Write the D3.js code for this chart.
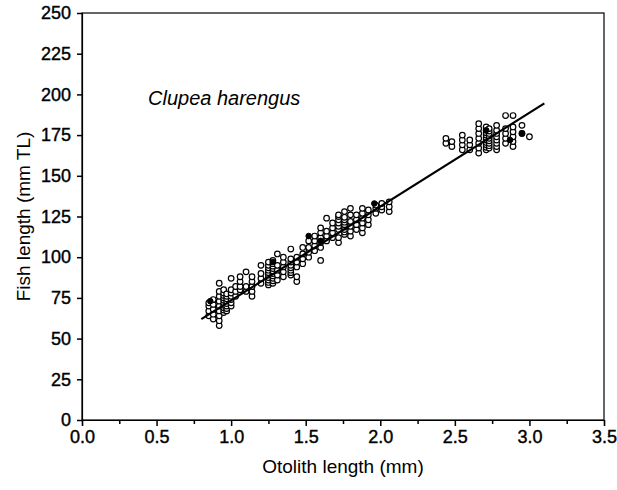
<!DOCTYPE html>
<html>
<head>
<meta charset="utf-8">
<script src="https://cdn.jsdelivr.net/npm/d3@7"></script>
<style>
  body { margin: 0; background: #fff; }
  text { font-family: "Liberation Sans", Arial, sans-serif; fill: #000; }
</style>
</head>
<body>
<svg id="chart"></svg>
<script>
// otolith length (mm) of each column of measurements, and fish lengths (mm TL) at it
var columnOL = [0.85, 0.88, 0.92, 0.95, 0.97, 1.0, 1.03, 1.06, 1.1, 1.14, 1.2, 1.25, 1.28, 1.31, 1.35, 1.4, 1.44, 1.48, 1.52, 1.56, 1.6, 1.64, 1.68, 1.72, 1.76, 1.8, 1.84, 1.88, 1.92, 1.97, 2.01, 2.06,
                2.44, 2.48, 2.55, 2.6, 2.66, 2.71, 2.73, 2.78, 2.84, 2.89, 2.95, 3.0];
var columnFL = [
  [64, 67, 70, 72],
  [62, 65, 68, 71, 74],
  [58, 61, 64, 67, 70, 73, 76, 79, 84],
  [66, 67.5, 69, 70.5, 72, 73.5, 75, 76.5, 78, 80],
  [67, 68.5, 70, 71.5, 73, 74.5, 76, 77.5],
  [70, 72, 74, 76, 78, 80, 87],
  [76, 79, 82],
  [80, 82, 85, 88],
  [79, 82, 91],
  [76, 79, 82, 85, 88],
  [84, 87, 90, 95],
  [83, 84.5, 86, 87.5, 89, 90.5, 92, 93.5, 95, 97],
  [84, 85.5, 87, 88.5, 90, 91.5, 93, 94.5, 96, 98],
  [86, 89, 92, 95, 102],
  [88, 91, 94, 97, 100],
  [89, 90.5, 92, 93.5, 95, 97, 99, 105],
  [85, 88, 94, 97, 100],
  [96, 99, 102, 106],
  [100, 103, 106, 110],
  [104, 107, 110, 113],
  [98, 106, 109, 112, 115, 118],
  [110, 113, 116, 124],
  [112, 115, 118, 121],
  [109, 112, 117, 119, 121, 123, 125, 126],
  [114, 115.5, 117, 118.5, 120, 121.5, 123, 124.5, 128],
  [113, 116, 119, 122, 126, 130],
  [117, 120, 123, 126],
  [115, 118, 121, 124, 127, 130],
  [120, 123, 126, 129],
  [127, 130, 132],
  [129, 131, 133],
  [128, 131, 134],
  [170, 173],
  [168, 171],
  [166, 169, 172, 175],
  [166, 169, 172],
  [164, 167, 170, 173, 176, 179, 182],
  [166, 167.5, 169, 170.5, 172, 173.5, 175, 176.5, 178, 180],
  [167, 168.5, 170, 171.5, 173, 174.5, 176, 177.5, 179],
  [166, 168, 170, 172, 174, 176, 178, 181],
  [170, 173, 176, 179, 187],
  [168, 171, 174, 177, 180, 187],
  [176, 181],
  [174]
];
// records that fall on the same spot (drawn solid)
var stackedOL = [0.86, 1.28, 1.52, 1.6, 1.96, 2.71, 2.95, 2.87];
var stackedFL = [73, 97, 113, 110, 133, 178, 176, 172];

var lineOL = [0.8, 3.1];
var interceptFL = 15.9, slopeFL = 57.6;

var xTicks = [0, 0.5, 1, 1.5, 2, 2.5, 3, 3.5];
var xMinor = [0.25, 0.75, 1.25, 1.75, 2.25, 2.75, 3.25];
var yTicks = [0, 25, 50, 75, 100, 125, 150, 175, 200, 225, 250];

var width = 617, height = 490;
var margin = {top: 13, right: 13, bottom: 70, left: 82};
var svg = d3.select("#chart").attr("width", width).attr("height", height);

var x = d3.scaleLinear().domain([0, 3.5]).range([margin.left, width - margin.right]);
var y = d3.scaleLinear().domain([0, 250]).range([height - margin.bottom, margin.top]);

// frame
svg.append("rect")
  .attr("x", x(0)).attr("y", y(250))
  .attr("width", x(3.5) - x(0)).attr("height", y(0) - y(250))
  .style("fill", "none").style("stroke", "#000").style("stroke-width", 1.2);

svg.append("g")
  .attr("transform", "translate(0," + y(0) + ")")
  .call(d3.axisBottom(x).tickValues(xTicks).tickFormat(d3.format(".1f")).tickSize(6).tickPadding(4));
svg.append("g")
  .attr("transform", "translate(0," + y(0) + ")")
  .call(d3.axisBottom(x).tickValues(xMinor).tickFormat("").tickSize(4))
  .select(".domain").remove();
svg.append("g")
  .attr("transform", "translate(" + x(0) + ",0)")
  .call(d3.axisLeft(y).tickValues(yTicks).tickSize(5).tickPadding(6));

svg.selectAll(".domain").style("stroke", "#000").style("stroke-width", 1.2);
svg.selectAll(".tick line").style("stroke", "#000").style("stroke-width", 1.5);
svg.selectAll(".tick text")
  .style("font-family", "'Liberation Sans', Arial, sans-serif")
  .style("font-size", "18px").style("fill", "#000")
  .style("stroke", "#000").style("stroke-width", 0.4);

// scatter
var pts = [];
columnOL.forEach(function(ol, i) {
  columnFL[i].forEach(function(fl) { pts.push({ol: ol, fl: fl}); });
});
svg.append("g").selectAll("circle")
  .data(pts).enter().append("circle")
  .attr("cx", function(d) { return x(d.ol); })
  .attr("cy", function(d) { return y(d.fl); })
  .attr("r", 2.8)
  .style("fill", "#fff").style("stroke", "#000").style("stroke-width", 1.2);

svg.append("g").selectAll("circle")
  .data(stackedOL).enter().append("circle")
  .attr("cx", function(d) { return x(d); })
  .attr("cy", function(d, i) { return y(stackedFL[i]); })
  .attr("r", 2.8)
  .style("fill", "#000").style("stroke", "#000");

// regression line
svg.append("line")
  .attr("x1", x(lineOL[0])).attr("y1", y(interceptFL + slopeFL * lineOL[0]))
  .attr("x2", x(lineOL[1])).attr("y2", y(interceptFL + slopeFL * lineOL[1]))
  .style("stroke", "#000").style("stroke-width", 2.2);

svg.append("text")
  .attr("x", 148).attr("y", 105)
  .style("font-size", "20px").style("font-style", "italic")
  .text("Clupea harengus");

svg.append("text")
  .attr("x", (x(0) + x(3.5)) / 2).attr("y", 473)
  .attr("text-anchor", "middle")
  .style("font-size", "19px")
  .text("Otolith length (mm)");

svg.append("text")
  .attr("transform", "translate(30," + ((y(0) + y(250)) / 2) + ") rotate(-90)")
  .attr("text-anchor", "middle")
  .style("font-size", "19px")
  .text("Fish length (mm TL)");
</script>
</body>
</html>
